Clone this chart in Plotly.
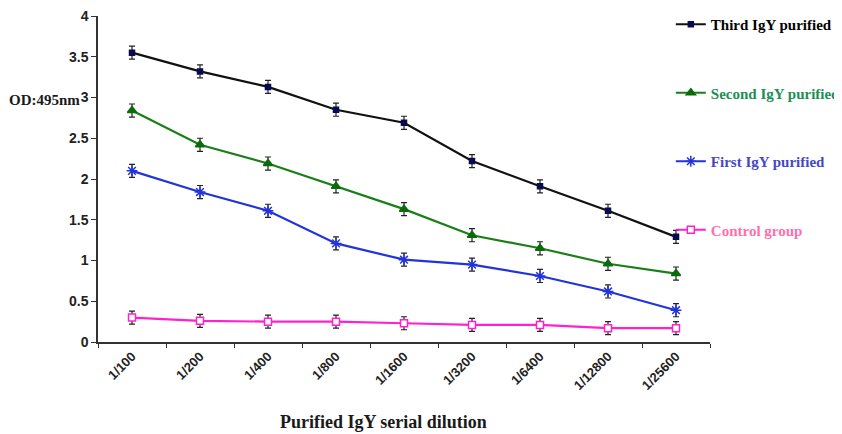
import plotly.graph_objects as go

categories = ["1/100", "1/200", "1/400", "1/800", "1/1600", "1/3200", "1/6400", "1/12800", "1/25600"]
third = [3.55, 3.32, 3.13, 2.85, 2.69, 2.22, 1.91, 1.61, 1.29]
second = [2.84, 2.42, 2.19, 1.91, 1.63, 1.31, 1.15, 0.96, 0.84]
first = [2.10, 1.84, 1.61, 1.21, 1.01, 0.95, 0.81, 0.62, 0.39]
control = [0.30, 0.26, 0.25, 0.25, 0.23, 0.21, 0.21, 0.17, 0.17]
err_third = [0.08] * 9
err_second = [0.08] * 9
err_first = [0.08] * 9
err_control = [0.08] * 9

series = [
    ("Third IgY purified", third, err_third, "#111111", "#0a0a50", "square", 5, "#0a0a50", "#000000"),
    ("Second IgY purified", second, err_second, "#1a7f1a", "#0b6b0b", "triangle-up", 8, "#0b6b0b", "#1a8f55"),
    ("First IgY purified", first, err_first, "#2233dd", "#2233dd", "asterisk-open", 9, "#2233dd", "#4448c8"),
    ("Control group", control, err_control, "#ff22cc", "white", "square", 7, "#ff22cc", "#ff6fae"),
]

fig = go.Figure()
for i, (name, vals, err, lc, mfill, sym, msize, mline, tcol) in enumerate(series):
    fig.add_trace(go.Scatter(
        x=categories, y=vals, mode="lines+markers",
        name=f"<span style='color:{tcol}'>{name}</span>",
        legendgroup=f"g{i}",
        line=dict(color=lc, width=2.2),
        marker=dict(symbol=sym, size=msize, color=mfill, line=dict(color=mline, width=1.5)),
        error_y=dict(type="data", array=err, color="#222222", thickness=1.2, width=3),
    ))

fig.update_layout(
    width=842, height=434,
    margin=dict(l=90, r=140, t=8, b=100, autoexpand=False),
    plot_bgcolor="white", paper_bgcolor="white",
    showlegend=True,
    legend=dict(
        x=0.936, y=1.0, xanchor="left", yanchor="top", yref="container",
        font=dict(family="Liberation Serif", size=15, weight="bold", color="#111111"),
        tracegroupgap=46, itemwidth=30, bgcolor="rgba(0,0,0,0)", maxheight=1,
    ),
    xaxis=dict(
        type="category", range=[-0.5, 8.5], automargin=False,
        showline=True, linecolor="#333333", linewidth=1.5,
        ticks="outside", ticklen=4, tickcolor="#333333", tickson="boundaries",
        tickangle=-45, showgrid=False, ticklabeloverflow="allow",
        tickfont=dict(family="Liberation Sans", size=13, color="#222222", weight="bold"),
    ),
    yaxis=dict(
        range=[0, 4], dtick=0.5, automargin=False,
        showline=True, linecolor="#333333", linewidth=1.5,
        ticks="outside", ticklen=5, tickcolor="#333333", showgrid=False, zeroline=False,
        ticklabeloverflow="allow",
        tickfont=dict(family="Liberation Sans", size=14, color="#222222", weight="bold"),
    ),
    annotations=[
        dict(text="OD:495nm", xref="paper", yref="y", x=-0.026, y=2.97,
             xanchor="right", yanchor="middle", showarrow=False,
             font=dict(family="Liberation Serif", size=15, weight="bold", color="#1a1a1a")),
        dict(text="Purified IgY serial dilution", xref="paper", yref="paper", x=0.466, y=-0.245,
             xanchor="center", yanchor="middle", showarrow=False,
             font=dict(family="Liberation Serif", size=18, weight="bold", color="#1a1a1a")),
    ],
)

fig.write_html("out.html")
